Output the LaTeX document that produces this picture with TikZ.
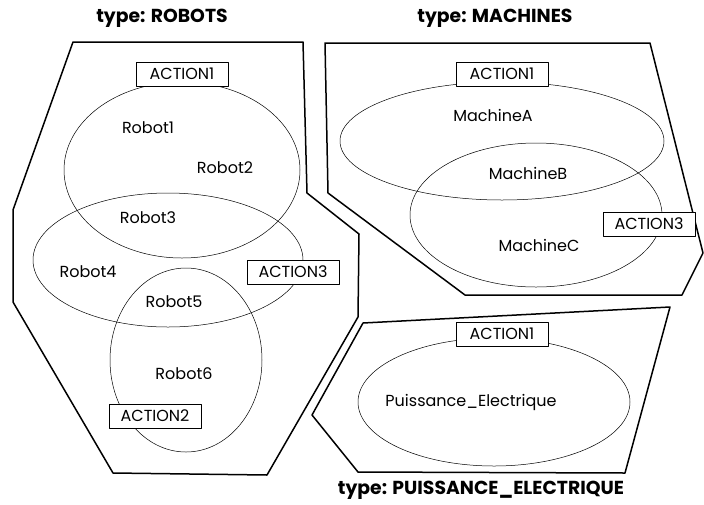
\documentclass[tikz,border=0pt]{standalone}
\usepackage{fontspec}
\setmainfont{Poppins}
\begin{document}
\begin{tikzpicture}[x=1pt, y=-1pt, line join=round, line cap=round,
    font=\fontsize{16}{19}\selectfont,
    zone/.style={line width=1.5pt},
    ens/.style={line width=0.5pt},
    action/.style={draw, line width=0.5pt, fill=white, minimum width=92pt, minimum height=24pt, inner sep=0pt, font=\fontsize{16}{19}\selectfont},
    titre/.style={font=\bfseries\fontsize{18.8}{22}\selectfont}]
\useasboundingbox (0,0) rectangle (704,504);
% Sommets du type ROBOTS
\coordinate (R1) at (73,42);
\coordinate (R2) at (303,42);
\coordinate (R3) at (307,193);
\coordinate (R4) at (359,234);
\coordinate (R5) at (358,317);
\coordinate (R6) at (267,475);
\coordinate (R7) at (113,473);
\coordinate (R8) at (13,302);
\coordinate (R9) at (13,210);
% Sommets du type MACHINES
\coordinate (M1) at (325,43);
\coordinate (M2) at (650,43);
\coordinate (M3) at (703,253);
\coordinate (M4) at (682,295);
\coordinate (M5) at (465,295);
\coordinate (M6) at (328,193);
% Sommets du type PUISSANCE_ELECTRIQUE
\coordinate (P1) at (363,323);
\coordinate (P2) at (670,307);
\coordinate (P3) at (625,473);
\coordinate (P4) at (358,472);
\coordinate (P5) at (312,415);
% Contours des types
\draw[zone] (R1) -- (R2) -- (R3) -- (R4) -- (R5) -- (R6) -- (R7) -- (R8) -- (R9) -- cycle;
\draw[zone] (M1) -- (M2) -- (M3) -- (M4) -- (M5) -- (M6) -- cycle;
\draw[zone] (P1) -- (P2) -- (P3) -- (P4) -- (P5) -- cycle;
% Ensembles (ellipses)
\draw[ens] (182,170) ellipse [x radius=118, y radius=88];
\draw[ens] (168,260) ellipse [x radius=135, y radius=67];
\draw[ens] (186,360) ellipse [x radius=76, y radius=92];
\draw[ens] (502,141) ellipse [x radius=162, y radius=59];
\draw[ens] (536,215) ellipse [x radius=126, y radius=72];
\draw[ens] (494,402) ellipse [x radius=136, y radius=64];
% Titres
\node[titre] (tRob) at (162,18) {type: ROBOTS};
\node[titre] (tMac) at (495,18) {type: MACHINES};
\node[titre] (tPui) at (481,490) {type: PUISSANCE\_ELECTRIQUE};
% Actions
\node[action] (aR1) at (182,74) {ACTION1};
\node[action] (aR3) at (293,272) {ACTION3};
\node[action] (aR2) at (155,416) {ACTION2};
\node[action] (aM1) at (502,74) {ACTION1};
\node[action] (aM3) at (649,224) {ACTION3};
\node[action] (aP1) at (502,334) {ACTION1};
% Elements
\node (rob1) at (148,128) {Robot1};
\node (rob2) at (225,168) {Robot2};
\node (rob3) at (148,218) {Robot3};
\node (rob4) at (88,272) {Robot4};
\node (rob5) at (174,302) {Robot5};
\node (rob6) at (184,374) {Robot6};
\node (macA) at (493,115) {MachineA};
\node (macB) at (528,173) {MachineB};
\node (macC) at (539,245) {MachineC};
\node (pui) at (471,402) {Puissance\_Electrique};
\end{tikzpicture}
\end{document}
